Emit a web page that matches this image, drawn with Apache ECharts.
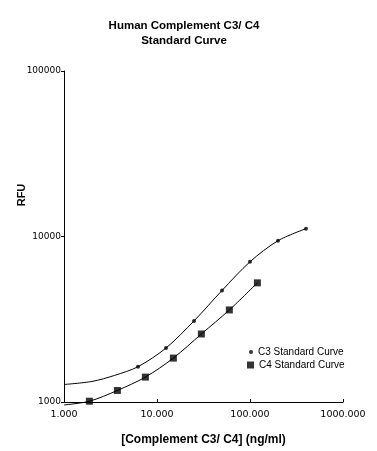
<!DOCTYPE html>
<html>
<head>
<meta charset="utf-8">
<script src="https://cdn.jsdelivr.net/npm/echarts@6/dist/echarts.min.js"></script>
<style>
  html, body { margin: 0; padding: 0; background: #fff; }
  #chart { width: 377px; height: 451px; }
</style>
</head>
<body>
<div id="chart"></div>
<script>
// concentrations (ng/ml) and RFU
const c3Conc = [6.25, 12.5, 25, 50, 100, 200, 400];
const c3Rfu = [1634, 2119, 3088, 4720, 7035, 9435, 11150];
const c4Conc = [1.875, 3.75, 7.5, 15, 30, 60, 120];
const c4Rfu = [1011, 1174, 1414, 1842, 2576, 3600, 5248];

// fitted curves
const c3CurveConc = [1, 2, 3.5, 6.25, 12.5, 25, 50, 100, 200, 400];
const c3CurveRfu = [1276, 1331, 1448, 1634, 2119, 3088, 4720, 7035, 9435, 11150];
const c4CurveConc = [1, 1.875, 3.75, 7.5, 15, 30, 60, 120];
const c4CurveRfu = [960, 1011, 1174, 1414, 1842, 2576, 3600, 5248];

const pairs = (xs, ys) => xs.map((x, i) => [x, ys[i]]);

const chart = echarts.init(document.getElementById('chart'), null, { renderer: 'canvas' });

const labelFont = { fontFamily: 'DejaVu Sans', fontSize: 9, color: '#000' };
const boldFont = 'Liberation Sans';

chart.setOption({
  animation: false,
  backgroundColor: '#fff',
  title: {
    text: 'Human Complement C3/ C4\nStandard Curve',
    left: 184,
    top: 18,
    padding: 0,
    textAlign: 'center',
    textStyle: { fontFamily: boldFont, fontWeight: 'bold', fontSize: 11.5, lineHeight: 15.5, color: '#000' }
  },
  legend: [
    {
      data: [{ name: 'C3 Standard Curve', icon: 'circle' }],
      left: 249, top: 347, padding: 0,
      itemWidth: 4, itemHeight: 4,
      textStyle: { fontFamily: 'Liberation Sans', fontSize: 10, color: '#000' }
    },
    {
      data: [{ name: 'C4 Standard Curve', icon: 'rect' }],
      left: 247, top: 360, padding: 0,
      itemWidth: 7, itemHeight: 7,
      textStyle: { fontFamily: 'Liberation Sans', fontSize: 10, color: '#000' }
    }
  ],
  grid: { left: 64, right: 34, top: 71, bottom: 49, containLabel: false },
  xAxis: {
    type: 'log',
    logBase: 10,
    min: 1,
    max: 1000,
    name: '[Complement C3/ C4] (ng/ml)',
    nameLocation: 'middle',
    nameGap: 32,
    nameTextStyle: { fontFamily: boldFont, fontWeight: 'bold', fontSize: 12, color: '#000' },
    axisLine: { lineStyle: { color: '#000', width: 1 } },
    axisTick: { inside: true, length: 3, lineStyle: { color: '#000' } },
    minorTick: { show: false },
    splitLine: { show: false },
    axisLabel: Object.assign({ margin: 8, fontSize: 9.5, formatter: v => Number(v).toFixed(3) }, { fontFamily: 'DejaVu Sans', color: '#000' })
  },
  yAxis: {
    type: 'log',
    logBase: 10,
    min: 1000,
    max: 100000,
    axisLine: { show: true, lineStyle: { color: '#000', width: 1 } },
    axisTick: { show: true, length: 3, lineStyle: { color: '#000' } },
    splitLine: { show: false },
    axisLabel: Object.assign({ margin: 3, formatter: v => String(Math.round(v)) }, labelFont)
  },
  graphic: [
    {
      type: 'text',
      x: 22, y: 195,
      rotation: Math.PI / 2,
      style: {
        text: 'RFU',
        fontFamily: boldFont, fontWeight: 'bold', fontSize: 11,
        fill: '#000', align: 'center', verticalAlign: 'middle'
      }
    }
  ],
  series: [
    {
      name: 'C3 fit',
      type: 'line',
      data: pairs(c3CurveConc, c3CurveRfu),
      smooth: 0.3,
      showSymbol: false,
      clip: false,
      lineStyle: { color: '#000', width: 1 },
      silent: true
    },
    {
      name: 'C4 fit',
      type: 'line',
      data: pairs(c4CurveConc, c4CurveRfu),
      smooth: 0.3,
      showSymbol: false,
      clip: false,
      lineStyle: { color: '#000', width: 1 },
      silent: true
    },
    {
      name: 'C3 Standard Curve',
      type: 'scatter',
      data: pairs(c3Conc, c3Rfu),
      symbol: 'circle',
      symbolSize: 4,
      itemStyle: { color: '#000' }
    },
    {
      name: 'C4 Standard Curve',
      type: 'scatter',
      data: pairs(c4Conc, c4Rfu),
      symbol: 'rect',
      symbolSize: 7,
      itemStyle: { color: '#000' }
    }
  ]
});
</script>
</body>
</html>
